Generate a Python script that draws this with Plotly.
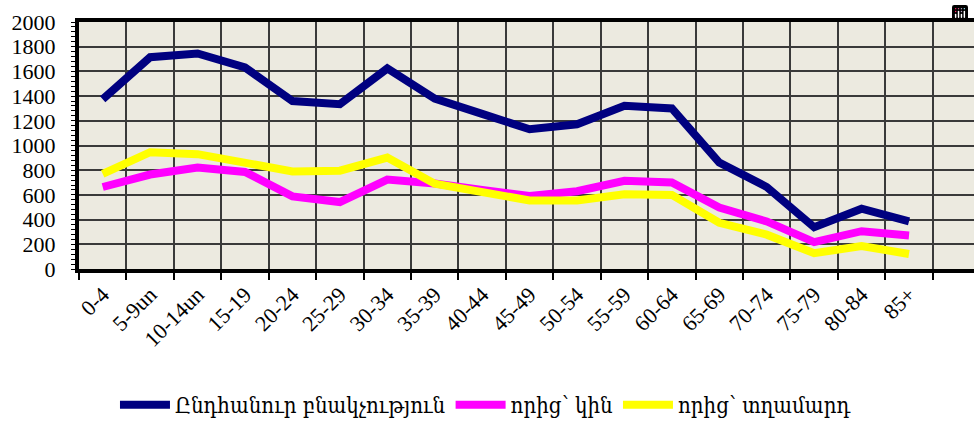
import plotly.graph_objects as go

categories = ["0-4", "5-9un", "10-14un", "15-19", "20-24", "25-29", "30-34", "35-39",
              "40-44", "45-49", "50-54", "55-59", "60-64", "65-69", "70-74", "75-79",
              "80-84", "85+"]
total = [1375, 1715, 1745, 1632, 1360, 1334, 1624, 1380, 1256, 1132, 1172, 1322, 1300,
         862, 664, 338, 488, 385]
women = [664, 765, 822, 786, 588, 542, 724, 692, 640, 592, 630, 714, 700, 497, 385,
         218, 306, 272]
men = [770, 946, 930, 862, 790, 796, 902, 690, 622, 555, 555, 606, 600, 374, 278,
       128, 186, 122]

names = ["Ընդհանուր բնակչություն", "որից՝ կին", "որից՝ տղամարդ"]
colors = ["#000080", "#FF00FF", "#FFFF00"]

serif = "Liberation Serif, Times New Roman, serif"
legend_font = "DejaVu Serif Condensed, DejaVu Serif, serif"

fig = go.Figure()
for name, vals, col in zip(names, [total, women, men], colors):
    fig.add_trace(go.Scatter(x=categories, y=vals, mode="lines", name=name,
                             line=dict(color=col, width=8)))

fig.update_layout(
    width=974, height=426,
    margin=dict(l=79, r=0, t=22, b=151),
    paper_bgcolor="white",
    plot_bgcolor="#ECEAE0",
    showlegend=True,
    modebar=dict(bgcolor="rgba(0,0,0,0)", color="rgba(0,0,0,0)", activecolor="rgba(0,0,0,0)"),
    legend=dict(orientation="h", x=0.0402, xanchor="left", y=-0.55, yanchor="middle",
                font=dict(family=legend_font, size=22, color="black"),
                itemwidth=50, bgcolor="rgba(0,0,0,0)"),
)
fig.update_xaxes(
    type="category", range=[-0.5, 18.37], tickson="boundaries", automargin=False,
    showgrid=True, gridcolor="#3a3a3a", gridwidth=1.5,
    showline=True, linecolor="black", linewidth=4, mirror=True,
    ticks="outside", ticklen=7, tickcolor="black", tickwidth=1.5,
    tickangle=-45,
    tickfont=dict(family=serif, size=22, color="black"),
    zeroline=False,
)
fig.update_yaxes(
    range=[0, 2000], dtick=200, tick0=0, automargin=False,
    showgrid=True, gridcolor="#3a3a3a", gridwidth=1.5,
    showline=True, linecolor="black", linewidth=4,
    ticks="outside", ticklen=4, tickcolor="black", tickwidth=1,
    minor=dict(dtick=40, ticks="outside", ticklen=4, tickcolor="black", tickwidth=1, showgrid=False),
    ticksuffix="\u00a0\u00a0",
    tickfont=dict(family=serif, size=22, color="black"),
    zeroline=False,
)

fig.write_html("out.html", post_script="document.body.style.margin='0';")
